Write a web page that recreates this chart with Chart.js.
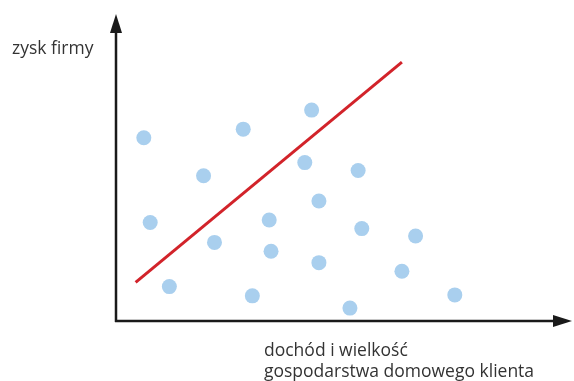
<!DOCTYPE html>
<html>
<head>
<meta charset="utf-8">
<script src="https://cdn.jsdelivr.net/npm/chart.js@4"></script>
<style>
html,body{margin:0;padding:0;background:#fff;}
#wrap{width:574px;height:381px;position:relative;}
</style>
</head>
<body>
<div id="wrap"><canvas id="c" width="574" height="381"></canvas></div>
<script>
// Scatter points (x: household income & size, y: company profit), arbitrary units 0..100
const pointX = [6.1, 27.9, 42.9, 19.2, 41.4, 53.1, 7.5, 33.6, 44.5, 21.6, 34.0, 53.9, 65.7, 11.7, 44.5, 62.7, 29.9, 51.3, 74.3];
const pointY = [59.7, 62.5, 68.7, 47.3, 51.6, 49.0, 32.1, 32.9, 39.1, 25.6, 22.7, 30.1, 27.7, 11.2, 19.0, 16.2, 8.2, 4.2, 8.5];
// Trend line endpoints
const lineX = [4.3, 62.7];
const lineY = [12.6, 84.3];
// Axis labels
const yAxisLabel = "zysk firmy";
const xAxisLabel = ["dochód i wielkość", "gospodarstwa domowego klienta"];

const FONT = "'Open Sans', sans-serif";

const axesPlugin = {
  id: 'axesArrows',
  afterDatasetsDraw(chart) {
    const ctx = chart.ctx;
    const a = chart.chartArea;
    const x0 = a.left, y0 = a.bottom;
    ctx.save();
    ctx.strokeStyle = '#1a1a1a';
    ctx.fillStyle = '#1a1a1a';
    ctx.lineWidth = 2.5;
    // y axis
    ctx.beginPath();
    ctx.moveTo(x0, y0 + 1);
    ctx.lineTo(x0, a.top + 12);
    ctx.stroke();
    // x axis
    ctx.beginPath();
    ctx.moveTo(x0 - 1, y0);
    ctx.lineTo(a.right - 12, y0);
    ctx.stroke();
    // arrow heads
    ctx.beginPath();
    ctx.moveTo(x0, a.top);
    ctx.lineTo(x0 - 6, a.top + 19);
    ctx.lineTo(x0 + 6, a.top + 19);
    ctx.closePath();
    ctx.fill();
    ctx.beginPath();
    ctx.moveTo(a.right, y0);
    ctx.lineTo(a.right - 19, y0 - 6);
    ctx.lineTo(a.right - 19, y0 + 6);
    ctx.closePath();
    ctx.fill();
    // labels
    ctx.fillStyle = '#333333';
    ctx.textBaseline = 'alphabetic';
    ctx.textAlign = 'left';
    ctx.font = '17.5px ' + FONT;
    ctx.fillText(yAxisLabel, 12, 54);
    ctx.fillText(xAxisLabel[0], 264, 356);
    ctx.fillText(xAxisLabel[1], 264, 377);
    ctx.restore();
  }
};

const scatterData = pointX.map((x, i) => ({x: x, y: pointY[i]}));
const lineData = lineX.map((x, i) => ({x: x, y: lineY[i]}));

new Chart(document.getElementById('c'), {
  type: 'scatter',
  data: {
    datasets: [
      {
        type: 'line',
        data: lineData,
        borderColor: '#d2232a',
        borderWidth: 3,
        pointRadius: 0,
        fill: false,
        clip: false,
        order: 1
      },
      {
        data: scatterData,
        backgroundColor: '#a9cfee',
        borderWidth: 0,
        pointRadius: 7.5,
        pointHoverRadius: 7.5,
        clip: false,
        order: 2
      }
    ]
  },
  options: {
    responsive: false,
    animation: false,
    events: [],
    layout: { autoPadding: false, padding: { left: 116, right: 2, top: 14, bottom: 60 } },
    plugins: { legend: { display: false }, tooltip: { enabled: false } },
    scales: {
      x: { type: 'linear', min: 0, max: 100, display: false },
      y: { type: 'linear', min: 0, max: 100, display: false }
    }
  },
  plugins: [axesPlugin]
});
</script>
</body>
</html>
